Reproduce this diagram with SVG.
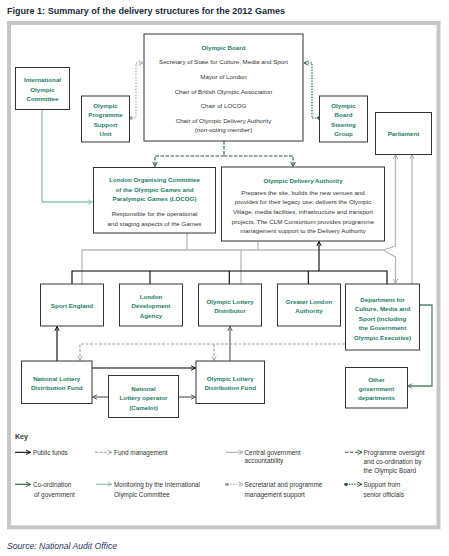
<svg xmlns="http://www.w3.org/2000/svg" width="449" height="556" viewBox="0 0 449 556">
<style>
.box{fill:#fff;stroke:#333;stroke-width:1}
.t{font-family:"Liberation Sans",Arial,sans-serif;font-size:6.2px;fill:#333;text-anchor:middle}
.h{font-weight:bold;fill:#1e7b6a}
.k{font-family:"Liberation Sans",Arial,sans-serif;font-size:6.4px;fill:#333}
.c{fill:none;stroke-width:1.1}
.pf{stroke:#000}
.cg{stroke:#b8b8b8;stroke-width:1.3}
.fm{stroke:#a0a0a0;stroke-dasharray:3,1.5}
.sec{stroke:#a0a0a0;stroke-dasharray:1.5,1.5}
.po{stroke:#1f5e3a;stroke-dasharray:3.5,1.5}
.so{stroke:#1f5e3a;stroke-dasharray:1.5,1.2}
.co{stroke:#4f8468;stroke-width:1.3}
.mo{stroke:#8fc4b2;stroke-width:1.3}
.lo{stroke:#8a8a8a;stroke-width:1.6}
</style>
<defs>
<marker id="aK" viewBox="0 0 8 8" refX="7" refY="4" markerWidth="6" markerHeight="6" markerUnits="userSpaceOnUse" orient="auto"><path d="M1,1 L7,4 L1,7" fill="none" stroke="#000" stroke-width="1.2"/></marker>
<marker id="aG" viewBox="0 0 8 8" refX="7" refY="4" markerWidth="6" markerHeight="6" markerUnits="userSpaceOnUse" orient="auto"><path d="M1,1 L7,4 L1,7" fill="none" stroke="#a8a8a8" stroke-width="1.2"/></marker>
<marker id="aD" viewBox="0 0 8 8" refX="7" refY="4" markerWidth="6" markerHeight="6" markerUnits="userSpaceOnUse" orient="auto"><path d="M1,1 L7,4 L1,7" fill="none" stroke="#555" stroke-width="1.2"/></marker>
<marker id="aP" viewBox="0 0 8 8" refX="7" refY="4" markerWidth="6" markerHeight="6" markerUnits="userSpaceOnUse" orient="auto"><path d="M1,1 L7,4 L1,7" fill="none" stroke="#1f5e3a" stroke-width="1.2"/></marker>
<marker id="aC" viewBox="0 0 8 8" refX="7" refY="4" markerWidth="6" markerHeight="6" markerUnits="userSpaceOnUse" orient="auto"><path d="M1,1 L7,4 L1,7" fill="none" stroke="#4f8468" stroke-width="1.2"/></marker>
<marker id="aM" viewBox="0 0 8 8" refX="7" refY="4" markerWidth="6" markerHeight="6" markerUnits="userSpaceOnUse" orient="auto"><path d="M1,1 L7,4 L1,7" fill="none" stroke="#8fc4b2" stroke-width="1.2"/></marker>
<marker id="dG" viewBox="0 0 4 4" refX="2" refY="2" markerWidth="3.5" markerHeight="3.5" markerUnits="userSpaceOnUse"><circle cx="2" cy="2" r="2" fill="#999"/></marker>
<marker id="dP" viewBox="0 0 4 4" refX="2" refY="2" markerWidth="3.5" markerHeight="3.5" markerUnits="userSpaceOnUse"><circle cx="2" cy="2" r="2" fill="#1f5e3a"/></marker>
</defs>

<text x="7" y="13.5" font-family="Liberation Sans,Arial,sans-serif" font-size="9.5" font-weight="bold" fill="#1c2b3c" textLength="278" lengthAdjust="spacingAndGlyphs">Figure 1: Summary of the delivery structures for the 2012 Games</text>
<rect x="9" y="23" width="429.5" height="504.3" fill="#fff" stroke="#c6c6c6" stroke-width="4"/>

<g id="connectors">
<path class="c sec" d="M131,118 H136 V63 H143" marker-start="url(#dG)" marker-end="url(#aG)"/>
<path class="c so" d="M319,118 H312 V63 H304" marker-start="url(#dP)" marker-end="url(#aP)"/>
<path class="c po" d="M224,141 V156 H155 V166.5" marker-end="url(#aP)"/>
<path class="c po" d="M224,156 H293 V166.5" marker-end="url(#aP)"/>
<path class="c mo" d="M42,109 V202 H92.5" marker-end="url(#aM)"/>
<path class="c cg" d="M187,233 V250"/>
<path class="c cg" d="M258,241 V250"/>
<path class="c cg" d="M82,284 V250 H383"/>
<path class="c cg" d="M241,250 V284"/>
<path class="c cg" d="M383,250 L395.5,246 V154.5" marker-end="url(#aG)"/>
<path class="c cg" d="M383,250 L395.5,257 V283.5" marker-end="url(#aG)"/>
<path class="c cg" d="M412,284 V154.5" marker-end="url(#aG)"/>
<path class="c pf" d="M72,284 V271 H387 V284"/>
<path class="c pf" d="M150,271 V284"/>
<path class="c pf" d="M229.3,271 V284"/>
<path class="c pf" d="M308.3,271 V284"/>
<path class="c pf" d="M319,271 V241.5" marker-end="url(#aK)"/>
<path class="c pf" d="M57,361 V326.5" marker-end="url(#aK)"/>
<path class="c pf" d="M92,368 H195.5" marker-end="url(#aK)"/>
<path class="c lo" d="M108,397 H92.5" marker-end="url(#aD)"/>
<path class="c lo" d="M178,397 H195.5" marker-end="url(#aD)"/>
<path class="c lo" d="M230,361 V326.5" marker-end="url(#aD)"/>
<path class="c fm" d="M345,344 H80 V360.5" marker-end="url(#aG)"/>
<path class="c fm" d="M214,344 V360.5" marker-end="url(#aG)"/>
<path class="c co" d="M419,305 H432 V386 H407.5" marker-end="url(#aC)"/>
</g>

<g id="olympic-board">
<rect class="box" x="144" y="34" width="159" height="107"/>
<text class="t h" x="223.5" y="49.5">Olympic Board</text>
<text class="t" x="223.5" y="64">Secretary of State for Culture, Media and Sport</text>
<text class="t" x="223.5" y="79">Mayor of London</text>
<text class="t" x="223.5" y="94">Chair of British Olympic Association</text>
<text class="t" x="223.5" y="108">Chair of LOCOG</text>
<text class="t" x="223.5" y="123">Chair of Olympic Delivery Authority</text>
<text class="t" x="223.5" y="131.5">(non-voting member)</text>
</g>

<g id="ioc">
<rect class="box" x="15.5" y="67.5" width="54" height="42"/>
<text class="t h" x="42.5" y="82">International</text>
<text class="t h" x="42.5" y="92">Olympic</text>
<text class="t h" x="42.5" y="101.3">Committee</text>
</g>

<g id="opsu">
<rect class="box" x="81.5" y="96" width="48" height="46"/>
<text class="t h" x="105.5" y="108.3">Olympic</text>
<text class="t h" x="105.5" y="117.3">Programme</text>
<text class="t h" x="105.5" y="127">Support</text>
<text class="t h" x="105.5" y="136">Unit</text>
</g>

<g id="obsg">
<rect class="box" x="319.5" y="96" width="48" height="46"/>
<text class="t h" x="343.5" y="108.3">Olympic</text>
<text class="t h" x="343.5" y="117.3">Board</text>
<text class="t h" x="343.5" y="127">Steering</text>
<text class="t h" x="343.5" y="136">Group</text>
</g>

<g id="parliament">
<rect class="box" x="375.5" y="112.5" width="56" height="42"/>
<text class="t h" x="403.5" y="136">Parliament</text>
</g>

<g id="locog">
<rect class="box" x="93.5" y="167.5" width="122" height="65.5"/>
<text class="t h" x="154.5" y="181.5">London Organising Committee</text>
<text class="t h" x="154.5" y="191.5">of the Olympic Games and</text>
<text class="t h" x="154.5" y="201">Paralympic Games (LOCOG)</text>
<text class="t" x="154.5" y="215.5">Responsible for the operational</text>
<text class="t" x="154.5" y="225.5">and staging aspects of the Games</text>
</g>

<g id="oda">
<rect class="box" x="221.5" y="167" width="163" height="74"/>
<text class="t h" x="303" y="183.3">Olympic Delivery Authority</text>
<text class="t" x="303" y="195">Prepares the site, builds the new venues and</text>
<text class="t" x="303" y="204.3">provides for their legacy use, delivers the Olympic</text>
<text class="t" x="303" y="214">Village, media facilities, infrastructure and transport</text>
<text class="t" x="303" y="223.6">projects. The CLM Consortium provides programme</text>
<text class="t" x="303" y="233">management support to the Delivery Authority</text>
</g>

<g id="sport-england">
<rect class="box" x="40.5" y="284" width="63" height="42"/>
<text class="t h" x="72" y="307.5">Sport England</text>
</g>

<g id="lda">
<rect class="box" x="119.5" y="284" width="63" height="42"/>
<text class="t h" x="151" y="298.5">London</text>
<text class="t h" x="151" y="307.5">Development</text>
<text class="t h" x="151" y="318">Agency</text>
</g>

<g id="old">
<rect class="box" x="198.5" y="284" width="63" height="42"/>
<text class="t h" x="230" y="304.3">Olympic Lottery</text>
<text class="t h" x="230" y="313">Distributor</text>
</g>

<g id="gla">
<rect class="box" x="277.5" y="284" width="63" height="42"/>
<text class="t h" x="309" y="304.3">Greater London</text>
<text class="t h" x="309" y="313.3">Authority</text>
</g>

<g id="dcms">
<rect class="box" x="345.5" y="284" width="74" height="66"/>
<text class="t h" x="382.5" y="301.5">Department for</text>
<text class="t h" x="382.5" y="311">Culture, Media and</text>
<text class="t h" x="382.5" y="321">Sport (including</text>
<text class="t h" x="382.5" y="330">the Government</text>
<text class="t h" x="382.5" y="340">Olympic Executive)</text>
</g>

<g id="other-departments">
<rect class="box" x="345.5" y="367.5" width="62" height="40.5"/>
<text class="t h" x="376.5" y="381.5">Other</text>
<text class="t h" x="376.5" y="391">government</text>
<text class="t h" x="376.5" y="400">departments</text>
</g>

<g id="nldf">
<rect class="box" x="21.5" y="361" width="70.5" height="42.5"/>
<text class="t h" x="56.7" y="381">National Lottery</text>
<text class="t h" x="56.7" y="389.6">Distribution Fund</text>
</g>

<g id="camelot">
<rect class="box" x="108.5" y="375.5" width="70" height="42"/>
<text class="t h" x="143.5" y="390.5">National</text>
<text class="t h" x="143.5" y="400">Lottery operator</text>
<text class="t h" x="143.5" y="409.5">(Camelot)</text>
</g>

<g id="oldf">
<rect class="box" x="196" y="361" width="68.5" height="42.5"/>
<text class="t h" x="230.2" y="381">Olympic Lottery</text>
<text class="t h" x="230.2" y="390">Distribution Fund</text>
</g>

<g id="key">
<text x="15" y="438.5" font-family="Liberation Sans,Arial,sans-serif" font-size="7" font-weight="bold" fill="#333">Key</text>
<path class="c pf" d="M15,452.3 H30.5" marker-end="url(#aK)"/>
<text class="k" x="33" y="454.5">Public funds</text>
<path class="c fm" d="M95,452.3 H112" marker-end="url(#aG)"/>
<text class="k" x="114" y="454.5">Fund management</text>
<path class="c cg" d="M226,452.3 H243" marker-end="url(#aG)"/>
<text class="k" x="244.5" y="454.5">Central government</text>
<text class="k" x="244.5" y="463.2">accountability</text>
<path class="c po" d="M345,452.3 H362" marker-end="url(#aP)"/>
<text class="k" x="363.5" y="454.5">Programme oversight</text>
<text class="k" x="363.5" y="463.8">and co-ordination by</text>
<text class="k" x="363.5" y="473.2">the Olympic Board</text>
<path class="c" stroke="#1f5e3a" d="M15,484.3 H30.5" marker-end="url(#aP)"/>
<text class="k" x="33" y="486.5">Co-ordination</text>
<text class="k" x="34" y="496.5">of government</text>
<path class="c mo" d="M96,484.3 H112" marker-end="url(#aM)"/>
<text class="k" x="114" y="486.5">Monitoring by the International</text>
<text class="k" x="114" y="496.5">Olympic Committee</text>
<path class="c sec" d="M227,484.3 H243" marker-start="url(#dG)" marker-end="url(#aG)"/>
<text class="k" x="244.5" y="486.5">Secretariat and programme</text>
<text class="k" x="244.5" y="496.5">management support</text>
<path class="c so" d="M346,484.3 H362" marker-start="url(#dP)" marker-end="url(#aP)"/>
<text class="k" x="363.5" y="486.5">Support from</text>
<text class="k" x="363.5" y="496.5">senior officials</text>
</g>

<text x="7" y="549" font-family="Liberation Sans,Arial,sans-serif" font-size="9" font-style="italic" fill="#23395d" textLength="110" lengthAdjust="spacingAndGlyphs">Source: National Audit Office</text>
</svg>
